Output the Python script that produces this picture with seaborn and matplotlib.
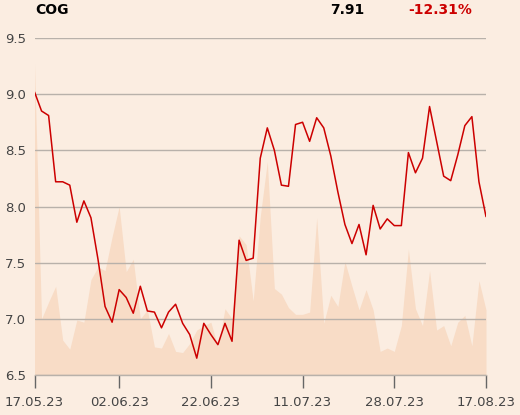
import pandas as pd
import seaborn as sns
import matplotlib.pyplot as plt

symbol = "COG"
last_price = "7.91"
change = "-12.31%"

# daily close, 17.05.23 - 17.08.23
price = [9.02, 8.85, 8.81, 8.22, 8.22, 8.19, 7.86, 8.05, 7.90, 7.53,
         7.11, 6.97, 7.26, 7.19, 7.05, 7.29, 7.07, 7.06, 6.92, 7.06,
         7.13, 6.96, 6.86, 6.65, 6.96, 6.86, 6.77, 6.96, 6.80, 7.70,
         7.52, 7.54, 8.43, 8.70, 8.50, 8.19, 8.18, 8.73, 8.75, 8.58,
         8.79, 8.70, 8.45, 8.13, 7.84, 7.67, 7.84, 7.57, 8.01, 7.80,
         7.89, 7.83, 7.83, 8.48, 8.30, 8.43, 8.89, 8.58, 8.27, 8.23,
         8.46, 8.72, 8.80, 8.22, 7.91]

# traded volume (relative units)
volume = [277, 50, 65, 79, 31, 23, 49, 47, 85, 96,
          93, 123, 150, 92, 103, 50, 58, 25, 24, 37,
          21, 20, 28, 40, 44, 47, 25, 59, 50, 124,
          116, 66, 141, 190, 77, 72, 60, 54, 54, 56,
          140, 46, 71, 61, 101, 79, 58, 76, 58, 21,
          24, 21, 44, 112, 59, 44, 93, 40, 44, 26,
          47, 53, 26, 84, 58]

tick_days = [0, 12, 25, 38, 51, 64]
tick_labels = ["17.05.23", "02.06.23", "22.06.23", "11.07.23", "28.07.23", "17.08.23"]
y_ticks = [6.5, 7.0, 7.5, 8.0, 8.5, 9.0, 9.5]

df = pd.DataFrame({"day": range(len(price)), "price": price, "volume": volume})

bg = "#fbede1"
grid_col = "#b8b1aa"
text_col = "#444444"

sns.set_theme(style="white")
plt.rcParams["font.family"] = ["DejaVu Sans"]

fig, ax = plt.subplots(figsize=(5.2, 4.15), dpi=100)
fig.patch.set_facecolor(bg)
fig.subplots_adjust(left=34.5 / 520, right=486 / 520, bottom=1 - 375 / 415, top=1 - 38 / 415)

# volume area behind the price line
ax_vol = ax.twinx()
ax_vol.fill_between(df["day"], df["volume"], color="#f8dcc6", lw=0)
ax_vol.set_ylim(0, 300)
ax_vol.axis("off")

ax.set_zorder(ax_vol.get_zorder() + 1)
ax.patch.set_visible(False)

sns.lineplot(data=df, x="day", y="price", ax=ax, color="#cc0000", lw=1.1)

ax.set_xlim(0, len(price) - 1)
ax.set_ylim(6.5, 9.5)
ax.set_yticks(y_ticks, [f"{t:.1f}" for t in y_ticks])
ax.set_xticks(tick_days, tick_labels)
ax.yaxis.grid(True, color=grid_col, lw=1)
ax.xaxis.grid(False)
for s in ["top", "right", "left"]:
    ax.spines[s].set_visible(False)
ax.spines["bottom"].set_color(grid_col)
ax.spines["bottom"].set_linewidth(1)
ax.tick_params(axis="x", length=9, width=1, color="#666666", labelsize=9.5,
               labelcolor=text_col, pad=6, bottom=True)
ax.tick_params(axis="y", length=0, labelsize=9.5, labelcolor=text_col, pad=6)
ax.set_xlabel("")
ax.set_ylabel("")

fig.text(35 / 520, 1 - 14 / 415, symbol, fontsize=10, fontweight="bold", color="black", va="baseline")
fig.text(364 / 520, 1 - 14 / 415, last_price, fontsize=10, fontweight="bold", color="black",
         ha="right", va="baseline")
fig.text(472 / 520, 1 - 14 / 415, change, fontsize=10, fontweight="bold", color="#cc0000",
         ha="right", va="baseline")

fig.savefig("out.png", dpi=100, facecolor=bg)
